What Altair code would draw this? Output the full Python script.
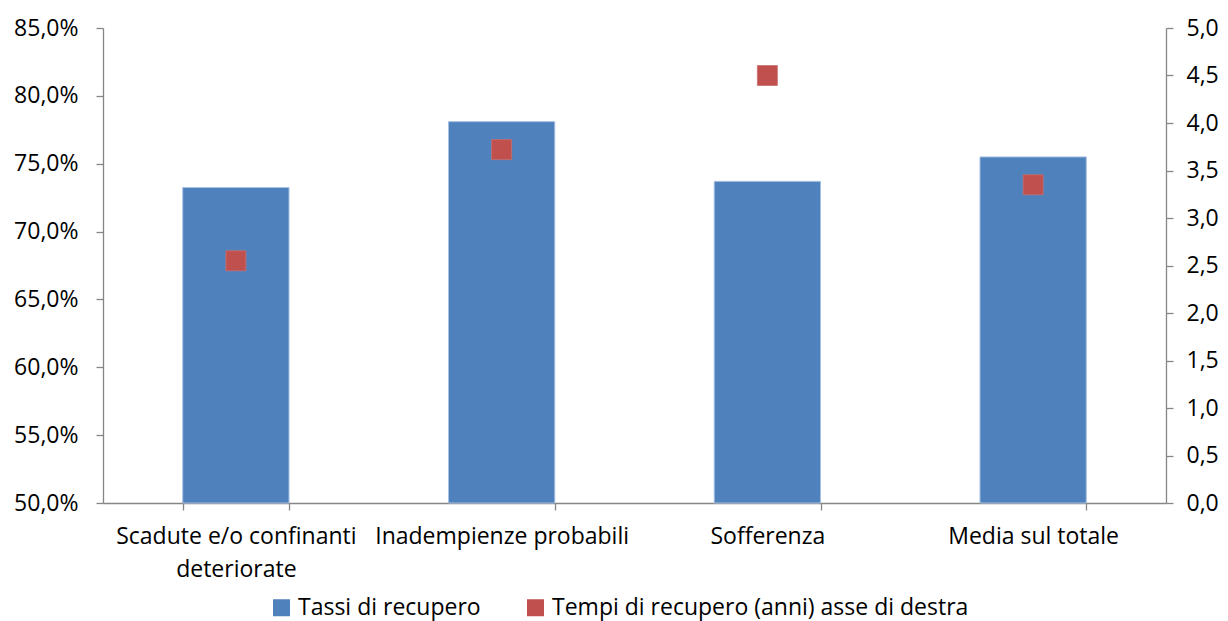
import altair as alt
import pandas as pd

categories = ["Scadute e/o confinanti deteriorate", "Inadempienze probabili", "Sofferenza", "Media sul totale"]
tassi = [73.25, 78.1, 73.7, 75.5]
tempi = [2.55, 3.72, 4.5, 3.35]
series = ["Tassi di recupero", "Tempi di recupero (anni) asse di destra"]
left_ticks = [50, 55, 60, 65, 70, 75, 80, 85]
right_ticks = [0, 0.5, 1, 1.5, 2, 2.5, 3, 3.5, 4, 4.5, 5]

df = pd.DataFrame({"cat": categories, "tassi": tassi, "tempi": tempi,
                   "s1": [series[0]] * 4, "s2": [series[1]] * 4})

FONT = "Open Sans"
FS = 23
GRAY = "#868686"

color_scale = alt.Scale(domain=series, range=["#4F81BD", "#C0504D"])

x_enc = alt.X(
    "cat:N",
    sort=categories,
    scale=alt.Scale(paddingInner=0.6, paddingOuter=0.3),
    axis=alt.Axis(
        title=None,
        labelAngle=0,
        tickBand="extent",
        labelExpr="datum.value == 'Scadute e/o confinanti deteriorate' ? ['Scadute e/o confinanti', 'deteriorate'] : datum.value",
        labelLineHeight=33,
        labelPadding=15,
        labelLimit=400,
    ),
)

bars = alt.Chart(df).mark_bar(stroke="#A7C1E2", strokeWidth=1).encode(
    x=x_enc,
    y=alt.Y(
        "tassi:Q",
        scale=alt.Scale(domain=[50, 85], zero=False, nice=False),
        axis=alt.Axis(
            title=None,
            orient="left",
            values=left_ticks,
            labelPadding=18,
            labelExpr="replace(format(datum.value, '.1f'), '.', ',') + '%'",
        ),
    ),
    y2=alt.Y2(datum=50),
    color=alt.Color("s1:N", scale=color_scale,
                    legend=alt.Legend(title=None, orient="none", legendX=167, legendY=568,
                                      direction="horizontal", columns=2, columnPadding=43,
                                      symbolType="square", symbolSize=289, symbolStrokeWidth=0,
                                      labelFontSize=FS, labelFont=FONT, labelOffset=5,
                                      labelLimit=600)),
)

points = alt.Chart(df).mark_point(shape="square", filled=True, size=400, opacity=1,
                                  stroke="#C8706E", strokeWidth=0.8).encode(
    x=x_enc,
    y=alt.Y(
        "tempi:Q",
        scale=alt.Scale(domain=[0, 5], nice=False),
        axis=alt.Axis(
            title=None,
            orient="right",
            values=right_ticks,
            labelPadding=13,
            labelExpr="replace(format(datum.value, '.1f'), '.', ',')",
        ),
    ),
    color=alt.Color("s2:N", scale=color_scale),
)

chart = (
    alt.layer(bars, points)
    .resolve_scale(y="independent")
    .properties(
        width=1063,
        height=475,
        autosize=alt.AutoSizeParams(type="none"),
        padding={"left": 95, "top": 20, "right": 54, "bottom": 118},
    )
    .configure_view(stroke=None)
    .configure_axis(
        grid=False,
        domainColor=GRAY,
        domainWidth=1.3,
        tickColor=GRAY,
        tickWidth=1.3,
        tickSize=7,
        labelFont=FONT,
        labelFontSize=FS,
        labelColor="#000000",
    )
    .configure_legend(labelColor="#000000")
)

chart.save("out.html", embed_options={"renderer": "svg", "actions": False})
